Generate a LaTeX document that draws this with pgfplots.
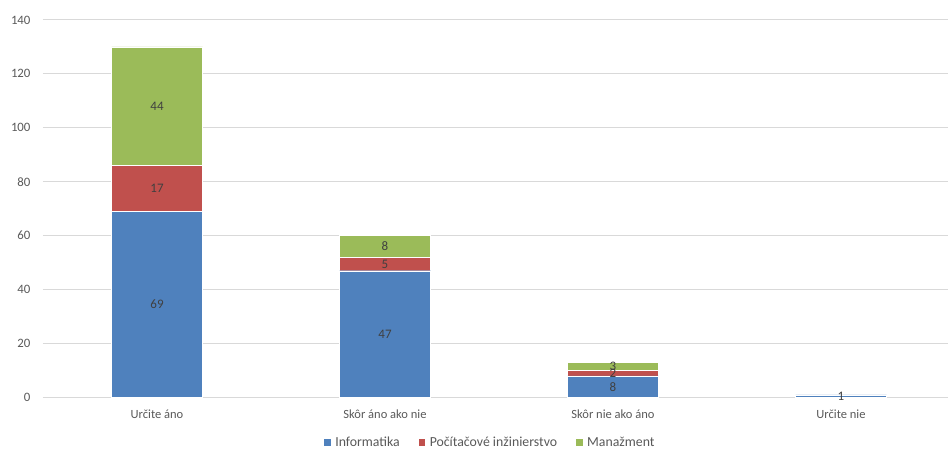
\documentclass[border=0pt]{standalone}
\usepackage{pgfplots}
\pgfplotsset{compat=1.18}
\usepackage{fontspec}
\setmainfont{Carlito}
\definecolor{cblue}{RGB}{79,129,189}
\definecolor{cred}{RGB}{192,80,77}
\definecolor{cgreen}{RGB}{155,187,89}
\definecolor{ctick}{RGB}{89,89,89}
\definecolor{clab}{RGB}{64,64,64}
\definecolor{cgrid}{RGB}{217,217,217}
\pgfplotsset{common/.style={
  scale only axis,
  width=912pt, height=377.6pt,
  xmin=-0.5, xmax=3.5, ymin=0, ymax=140}}
\begin{document}
\begin{tikzpicture}
\begin{axis}[
  common,
  ybar stacked, bar width=91pt,
  ytick={0,20,...,140},
  xtick={0,1,2,3},
  xticklabels={Určite áno, Skôr áno ako nie, Skôr nie ako áno, Určite nie},
  axis line style={draw=none},
  major tick length=0pt,
  ymajorgrids, grid style={cgrid, line width=0.9pt},
  tick label style={font=\fontsize{12}{14}\selectfont, text=ctick},
  yticklabel style={xshift=-9pt, font=\fontsize{12.8}{14}\selectfont},
  xticklabel style={yshift=-9pt, font=\fontsize{12.5}{14}\selectfont},
  /pgf/number format/assume math mode=true,
  legend style={draw=none, at={(0.49,-0.119)}, anchor=center, legend columns=-1,
     font=\fontsize{13.8}{15}\selectfont, text=ctick,
     /tikz/every odd column/.append style={column sep=2pt},
     /tikz/every even column/.append style={column sep=16pt}},
  legend image code/.code={\fill[#1] (0pt,-3.8pt) rectangle (7.6pt,3.8pt);},
]
\addplot[fill=cblue, draw=white, line width=0.4pt] coordinates {(0,69) (1,47) (2,8) (3,1)};
\addplot[fill=cred, draw=white, line width=0.4pt] coordinates {(0,17) (1,5) (2,2)};
\addplot[fill=cgreen, draw=white, line width=0.4pt] coordinates {(0,44) (1,8) (2,3)};
\legend{Informatika, Počítačové inžinierstvo, Manažment}
\end{axis}
\begin{axis}[
  common, hide axis,
  nodes near coords, point meta=explicit symbolic,
  every node near coord/.append style={font=\fontsize{13}{15}\selectfont, text=clab, anchor=center, inner sep=0pt},
]
\addplot[only marks, mark=none] coordinates {
  (0,34.5) [69] (0,77.5) [17] (0,108) [44]
  (1,23.5) [47] (1,49.5) [5] (1,56) [8]
  (2,4) [8] (2,9) [2] (2,11.5) [3]
  (3,0.5) [1]};
\end{axis}
\pgfresetboundingbox
\path (-43pt,-52.5pt) rectangle (905pt,397.5pt);
\end{tikzpicture}
\end{document}
